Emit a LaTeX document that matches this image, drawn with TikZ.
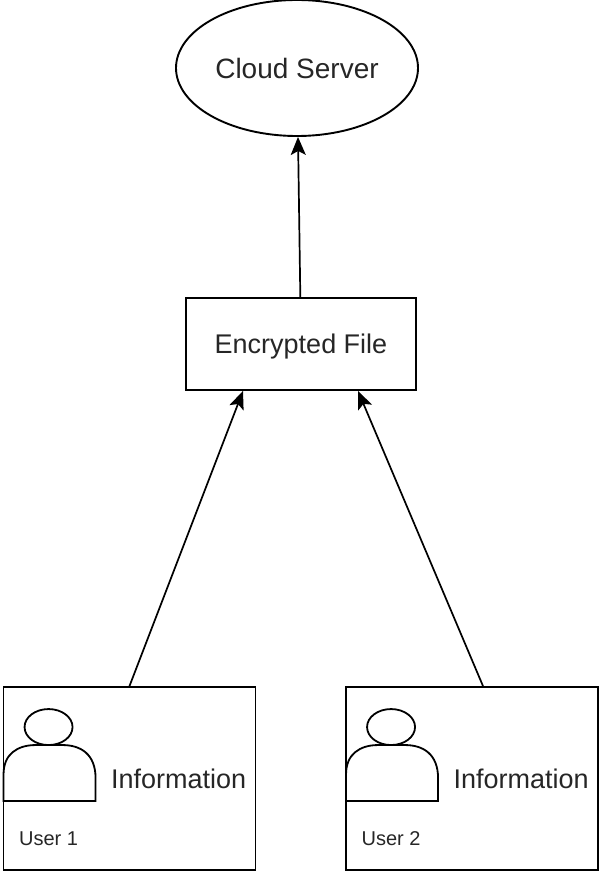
\documentclass[tikz,border=0pt]{standalone}
\usepackage{fontspec}
\setmainfont{Liberation Sans}
\usetikzlibrary{shapes.geometric,arrows.meta,positioning}

\begin{document}
\begin{tikzpicture}[x=1pt,y=-1pt]
\tikzstyle{outline}=[draw,line width=1.9pt,inner sep=0pt,text=black!85]
\tikzstyle{server}=[outline,ellipse,minimum width=242pt,minimum height=136pt,font=\fontsize{28}{32}\selectfont]
\tikzstyle{filebox}=[outline,rectangle,minimum width=230pt,minimum height=92pt,text depth=0pt,font=\fontsize{27}{31}\selectfont]
\tikzstyle{userbox}=[outline,rectangle,minimum width=252pt,minimum height=183pt]
\tikzstyle{info}=[inner sep=0pt,text=black!85,font=\fontsize{27}{31}\selectfont]
\tikzstyle{who}=[inner sep=0pt,text=black!85,font=\fontsize{20}{24}\selectfont]
\tikzstyle{arr}=[line width=1.7pt,-{Stealth[length=18pt,width=15pt,inset=4pt]}]
\useasboundingbox (0,0) rectangle (600,872);

\node[server] (cloud) at (297,68) {Cloud Server};
\node[filebox] (file) at (301,344) {Encrypted File};
\node[userbox] (u1) at (129.5,778.5) {};
\node[userbox] (u2) at (472,778.5) {};

% person icon, text and label in each user box
\foreach \u/\n in {u1/1,u2/2} {
  \begin{scope}[shift={(\u.north west)}]
    \draw[line width=1.8pt] (46,41) ellipse (24 and 18);
    \draw[line width=1.8pt] (1,115) -- (1,88) .. controls (1,68) and (15,59) .. (33,59)
      -- (60,59) .. controls (78,59) and (93,68) .. (93,92) -- (93,115) -- cycle;
  \end{scope}
  \node[info] (\u info) at ([shift={(176,0)}]\u.west) {Information};
  \node[who] (\u name) at ([shift={(46,60)}]\u.west) {User \n};
}

\path[arr,draw] (file) -- (cloud);
\path[arr,draw] (u1.north) -- ([xshift=-58pt]file.south);
\path[arr,draw] ([xshift=11pt]u2.north) -- ([xshift=57pt]file.south);
\end{tikzpicture}
\end{document}
